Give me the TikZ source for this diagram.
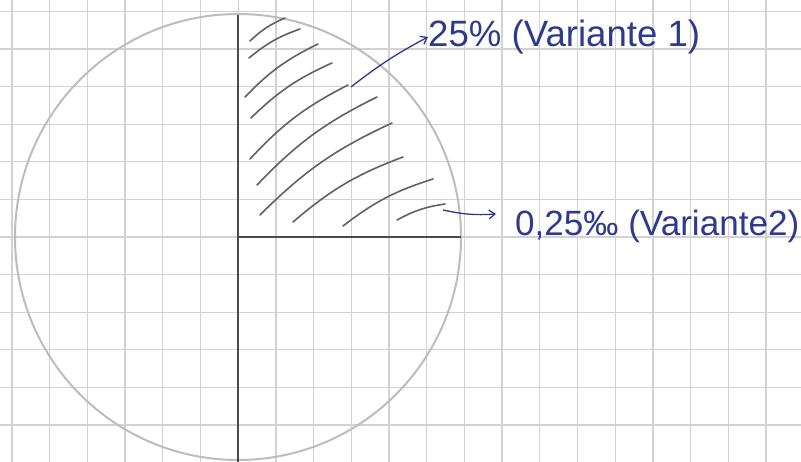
\documentclass[tikz,border=0pt]{standalone}
\usepackage{fontspec}
\setmainfont{Liberation Sans}
\usetikzlibrary{arrows.meta}
\definecolor{gridc}{HTML}{D2D2D2}
\definecolor{circc}{HTML}{BDBDBD}
\definecolor{axisc}{HTML}{4A4A4A}
\definecolor{hatchc}{HTML}{626262}
\definecolor{inkc}{HTML}{2E3A8C}
\tikzset{
  gridline/.style={draw=gridc, line width=1.3pt},
  circleline/.style={draw=circc, line width=2pt},
  axisline/.style={draw=axisc, line width=1.4pt},
  hatchline/.style={draw=hatchc, line width=1.6pt, line cap=round},
  inkarrow/.style={draw=inkc, line width=1.3pt, -{Straight Barb[length=6pt,width=9pt]}},
  inklabel/.style={text=inkc, font=\fontsize{29}{32}\selectfont, inner sep=0pt, anchor=west}
}
\begin{document}
\begin{tikzpicture}[x=1pt,y=-1pt]
\useasboundingbox (0,0) rectangle (801,462);
\fill[white] (0,0) rectangle (801,462);
% grid
\foreach \i in {0,...,21} {
  \draw[gridline] ({12+37.7*\i},0) -- ({12+37.7*\i},462);
}
\foreach \j in {-6,...,6} {
  \draw[gridline] (0,{237+37.6*\j}) -- (801,{237+37.6*\j});
}
% circle
\coordinate (O) at (238,237);
\draw[circleline] (O) circle[radius=223];
% axes
\coordinate (top) at (238,15);
\coordinate (bot) at (238,462);
\coordinate (right) at (461,237);
\draw[axisline] (top) -- (bot);
\draw[axisline] (O) -- (right);
% hatching
\foreach \ax/\ay/\bx/\by in {
  250/41/285/18,
  249/58/300/29,
  245/97/318/44,
  251/118/332/63,
  250/159/348/85,
  257/185/377/97,
  260/215/392/123,
  293/222/403/157,
  343/226/433/179,
  397/220/445/204} {
  \draw[hatchline] (\ax,\ay) to[bend left=10] (\bx,\by);
}
% labels
\node[inklabel] (v1) at (428,37) {\resizebox{272pt}{!}{25\% (Variante 1)}};
\node[inklabel] (v2) at (515,226) {\resizebox{284pt}{!}{0,25‰ (Variante2)}};
\coordinate (a1) at (351,87);
\coordinate (a2) at (443,210);
\coordinate (a2e) at (496,214);
\draw[inkarrow] (a1) to[bend left=5] (v1.west);
\draw[inkarrow] (a2) to[bend right=8] (a2e);
\end{tikzpicture}
\end{document}
